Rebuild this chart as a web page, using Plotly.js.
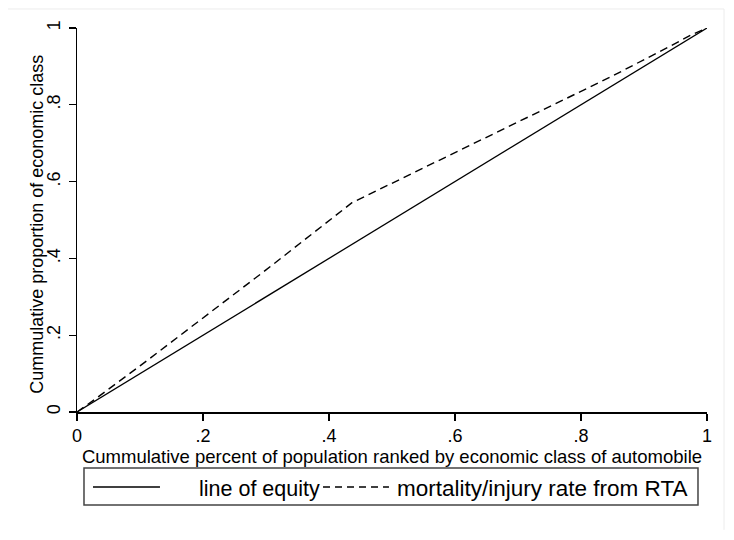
<!DOCTYPE html>
<html>
<head>
<meta charset="utf-8">
<script src="https://cdn.plot.ly/plotly-3.0.1.min.js"></script>
<style>html,body{margin:0;padding:0;background:#fff;}#chart{width:734px;height:540px;}</style>
</head>
<body>
<div id="chart"></div>
<script>
// ---- data ----
const seriesNames = ["line of equity", "mortality/injury rate from RTA"];
const equityX = [0, 0.2, 0.4, 0.6, 0.8, 1];
const equityY = [0, 0.2, 0.4, 0.6, 0.8, 1];
const rtaX = [0, 0.03, 0.1, 0.2, 0.3, 0.4365, 0.55, 0.7, 0.85, 0.95, 0.975, 1];
const rtaY = [0, 0.035, 0.12, 0.245, 0.37, 0.545, 0.635, 0.755, 0.875, 0.96, 0.982, 1];
const tickVals = [0, 0.2, 0.4, 0.6, 0.8, 1];
const tickText = ["0", ".2", ".4", ".6", ".8", "1"];
const xTitle = "Cummulative percent of population ranked by economic class of automobile";
const yTitle = "Cummulative proportion of economic class";

const FONT = "Liberation Sans, Arial, sans-serif";

const traces = [
  {x: equityX, y: equityY, mode: "lines", name: seriesNames[0],
   line: {color: "#000", width: 1.3}, showlegend: false, hoverinfo: "skip"},
  {x: rtaX, y: rtaY, mode: "lines", name: seriesNames[1],
   line: {color: "#000", width: 1.4, dash: "8px,5px"}, showlegend: false, hoverinfo: "skip"}
];

// legend drawn as paper-space shapes + text
const L = {x0: 0.0111, x1: 0.9857, y0: -0.2422, y1: -0.1458, ymid: -0.1953};
const shapes = [
  {type: "rect", xref: "paper", yref: "paper", x0: L.x0, x1: L.x1, y0: L.y0, y1: L.y1,
   line: {color: "#444", width: 1.5}, fillcolor: "rgba(0,0,0,0)"},
  {type: "line", xref: "paper", yref: "paper", x0: 0.0254, x1: 0.1317, y0: L.ymid, y1: L.ymid,
   line: {color: "#000", width: 1.3}},
  {type: "line", xref: "paper", yref: "paper", x0: 0.3905, x1: 0.4952, y0: L.ymid, y1: L.ymid,
   line: {color: "#000", width: 1.3, dash: "7px,5px"}},
  // faint outer frame (top and right)
  {type: "line", xref: "paper", yref: "paper", x0: -0.1095, x1: 1.027, y0: 1.0495, y1: 1.0495,
   line: {color: "#ececec", width: 1}},
  {type: "line", xref: "paper", yref: "paper", x0: 1.027, x1: 1.027, y0: 1.0495, y1: -0.307,
   line: {color: "#ececec", width: 1}}
];
const annotations = [
  {xref: "paper", yref: "paper", x: 0.1905, y: L.ymid - 0.005, xanchor: "left", yanchor: "middle",
   text: seriesNames[0], showarrow: false, font: {family: FONT, size: 21.5, color: "#000"}},
  {xref: "paper", yref: "paper", x: 0.5055, y: L.ymid - 0.005, xanchor: "left", yanchor: "middle",
   text: seriesNames[1], showarrow: false, font: {family: FONT, size: 22.5, color: "#000"}},
  // y-axis title (placed tight against the tick labels as in the reference)
  {xref: "paper", yref: "paper", x: -0.0635, y: 0.49, xanchor: "center", yanchor: "middle",
   textangle: -90, text: yTitle, showarrow: false, font: {family: FONT, size: 18, color: "#000"}}
];

const layout = {
  width: 734, height: 540,
  margin: {l: 77, r: 27, t: 28, b: 128},
  paper_bgcolor: "#fff", plot_bgcolor: "#fff",
  font: {family: FONT, size: 18.5, color: "#000"},
  showlegend: false,
  xaxis: {
    range: [0, 1], tickvals: tickVals, ticktext: tickText,
    showgrid: false, zeroline: false, showline: true, linecolor: "#000", linewidth: 1.5,
    ticks: "outside", ticklen: 7, tickwidth: 1.3, tickcolor: "#000",
    tickfont: {family: FONT, size: 18, color: "#000"},
    title: {text: xTitle, font: {family: FONT, size: 18.5, color: "#000"}, standoff: 0},
    automargin: false, fixedrange: true
  },
  yaxis: {
    range: [0, 1], tickvals: tickVals, ticktext: tickText, tickangle: -90,
    showgrid: false, zeroline: false, showline: true, linecolor: "#000", linewidth: 1.5,
    ticks: "outside", ticklen: 7, tickwidth: 1.3, tickcolor: "#000", ticklabelstandoff: 1,
    tickfont: {family: FONT, size: 18, color: "#000"},
    automargin: false, fixedrange: true
  },
  shapes: shapes,
  annotations: annotations
};

Plotly.newPlot("chart", traces, layout, {staticPlot: true, displayModeBar: false});
</script>
</body>
</html>
